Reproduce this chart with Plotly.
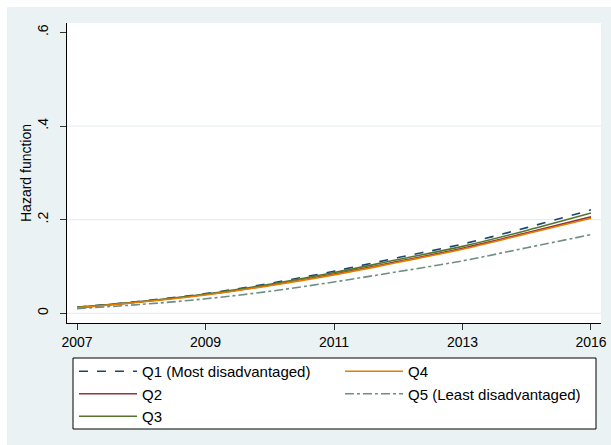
import plotly.graph_objects as go

# ---- data ----
period_index = [0, 1, 2, 3, 4, 5, 6, 7, 8]
tick_positions = [0, 2, 4, 6, 8]
tick_labels = ["2007", "2009", "2011", "2013", "2016"]
y_ticks = [0, 0.2, 0.4, 0.6]
y_tick_labels = ["0", ".2", ".4", ".6"]

q1 = [0.013, 0.026, 0.042, 0.064, 0.090, 0.119, 0.148, 0.183, 0.221]
q2 = [0.012, 0.025, 0.040, 0.060, 0.084, 0.111, 0.139, 0.172, 0.206]
q3 = [0.013, 0.025, 0.041, 0.062, 0.087, 0.115, 0.143, 0.177, 0.214]
q4 = [0.012, 0.024, 0.039, 0.059, 0.082, 0.109, 0.137, 0.170, 0.203]
q5 = [0.010, 0.019, 0.031, 0.047, 0.067, 0.089, 0.112, 0.140, 0.168]

series = [
    ("Q1 (Most disadvantaged)", q1, "#1A476F", "dash", "legend"),
    ("Q2", q2, "#90353B", "solid", "legend"),
    ("Q3", q3, "#55752F", "solid", "legend"),
    ("Q4", q4, "#E37E00", "solid", "legend2"),
    ("Q5 (Least disadvantaged)", q5, "#6E8E84", "dashdot", "legend2"),
]

W, H = 611, 445
ML, MR, MT, MB = 67, 10, 23, 122
PW, PH = W - ML - MR, H - MT - MB

def px_x(p):
    return (p - ML) / PW

def px_y(p):
    return (H - MB - p) / PH

fig = go.Figure()
for name, vals, color, dash, leg in series:
    fig.add_trace(go.Scatter(
        x=period_index, y=vals, name=name, mode="lines",
        line=dict(color=color, width=1.6, dash=dash, shape="spline"),
        legend=leg,
    ))

for v in [0, 0.2, 0.4]:
    fig.add_hline(y=v, line=dict(color="#E2EBEE", width=1), layer="below")

panel = "#EAF2F3"
shapes = [
    # white page margin strips around the grey-blue graph region
    dict(type="rect", xref="paper", yref="paper", x0=px_x(-2), x1=px_x(7),
         y0=px_y(H + 2), y1=px_y(-2), fillcolor="white", line=dict(width=0), layer="above"),
    dict(type="rect", xref="paper", yref="paper", x0=px_x(-2), x1=px_x(W + 2),
         y0=px_y(7), y1=px_y(-2), fillcolor="white", line=dict(width=0), layer="above"),
    # legend frame (one box around both legend columns)
    dict(type="rect", xref="paper", yref="paper", x0=px_x(73), x1=px_x(596),
         y0=px_y(429), y1=px_y(358), fillcolor="white",
         line=dict(color="black", width=1), layer="above"),
]
for s in shapes:
    fig.add_shape(**s)

font = "Liberation Sans, Arial, sans-serif"
leg_common = dict(
    orientation="v", xanchor="left", yanchor="top",
    bgcolor="rgba(0,0,0,0)", borderwidth=0, itemwidth=58,
    font=dict(family=font, size=15, color="black"),
    traceorder="normal", tracegroupgap=0,
)
fig.update_layout(
    width=W, height=H,
    margin=dict(l=ML, r=MR, t=MT, b=MB, pad=0, autoexpand=False),
    paper_bgcolor=panel, plot_bgcolor="white",
    font=dict(family=font, size=14, color="black"),
    showlegend=True,
    legend=dict(x=px_x(74), y=px_y(355), **leg_common),
    legend2=dict(x=px_x(340), y=px_y(355), **leg_common),
    xaxis=dict(
        range=[-0.156, 8.156], tickmode="array", tickvals=tick_positions, ticktext=tick_labels,
        showgrid=False, zeroline=False, showline=True, linecolor="black", linewidth=1,
        ticks="outside", ticklen=6, tickcolor="#333", tickfont=dict(size=14),
    ),
    yaxis=dict(
        range=[-0.0207, 0.62], tickmode="array", tickvals=y_ticks, ticktext=y_tick_labels,
        showgrid=False, zeroline=False, showline=True, linecolor="black", linewidth=1,
        ticks="outside", ticklen=6, tickcolor="#333", tickangle=-90, tickfont=dict(size=14),
        ticklabelstandoff=6,
        title=dict(text="Hazard function", font=dict(size=14), standoff=0),
    ),
)

fig.write_html(
    "out.html",
    config={"displayModeBar": False},
    post_script="document.body.style.margin='0px';document.body.style.overflow='hidden';",
)
